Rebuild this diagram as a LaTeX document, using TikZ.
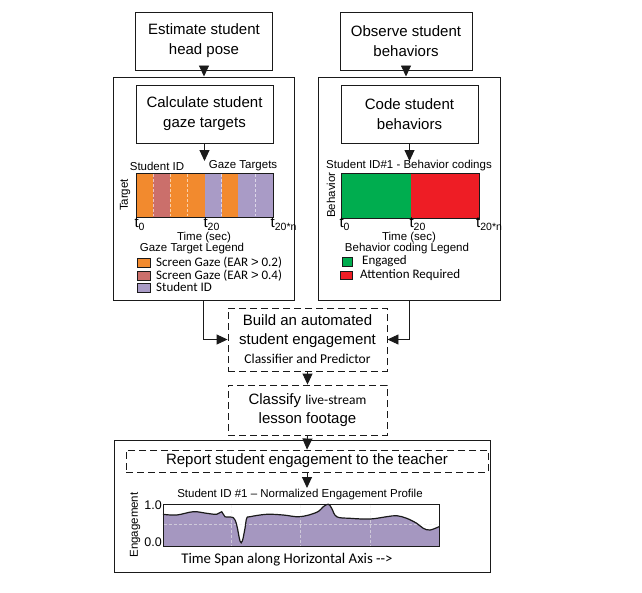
\documentclass[tikz,border=0pt]{standalone}
\usepackage{fontspec}
\setmainfont{Liberation Sans}
\newfontfamily\calfont{Carlito}
\usetikzlibrary{arrows.meta}
\definecolor{gorange}{HTML}{F28A2E}
\definecolor{grose}{HTML}{CB6F6B}
\definecolor{glav}{HTML}{A99BC6}
\definecolor{bgreen}{HTML}{00AD4F}
\definecolor{bred}{HTML}{EE1D25}
\definecolor{pfill}{HTML}{A597C0}
\definecolor{lnk}{HTML}{1A1A1A}
\tikzset{
  box/.style={draw=lnk, line width=0.9pt, fill=white, align=center, inner sep=2pt,
    font=\fontsize{15}{20}\selectfont},
  dbox/.style={draw=lnk, line width=0.9pt, dash pattern=on 7pt off 4pt, fill=white, align=center, inner sep=2pt,
    font=\fontsize{15}{19}\selectfont},
  outer/.style={draw=lnk, line width=1pt},
  arr/.style={draw=lnk, line width=0.9pt, -{Triangle[length=11pt,width=10pt]}},
  lbl/.style={inner sep=0pt, font=\fontsize{11.5}{13}\selectfont},
  tlbl/.style={inner sep=0pt, anchor=north west, font=\fontsize{15}{15}\selectfont},
  leg/.style={inner sep=0pt, anchor=west, font=\calfont\fontsize{13}{14}\selectfont},
  sq/.style={draw=lnk, line width=0.5pt},
  grid/.style={draw=white, opacity=0.6, line width=0.7pt, dash pattern=on 3pt off 2pt},
}
\newcommand{\tsub}[1]{t\raisebox{-0.35ex}{\fontsize{10.5}{10.5}\selectfont #1}}
\begin{document}
\begin{tikzpicture}[x=1pt,y=-1pt]
\useasboundingbox (0,0) rectangle (642,592);

% top boxes
\node[box, minimum width=137, minimum height=58] (est) at (204,41) {Estimate student\\head pose};
\node[box, minimum width=132, minimum height=58] (obs) at (406,41) {Observe student\\behaviors};

% outer boxes
\node[outer, minimum width=181, minimum height=223] (lout) at (203.5,188.5) {};
\node[outer, minimum width=182, minimum height=223] (rout) at (409,188.5) {};

\draw[arr] (est.south) -- (est.south |- lout.north);
\draw[arr] (obs.south) -- (obs.south |- rout.north);

\node[box, minimum width=137, minimum height=58] (calc) at (204.5,114) {Calculate student\\gaze targets};
\node[box, minimum width=137, minimum height=58] (code) at (409.5,114) {Code student\\behaviors};

\coordinate (ltip) at (204.5,161);
\coordinate (rtip) at (409.5,161);
\draw[arr] (calc.south) -- (ltip);
\draw[arr] (code.south) -- (rtip);

% ---------- left chart ----------
\node[lbl] (lsid) at (157,166) {Student ID};
\node[lbl] (lgt) at (243,166) {Gaze Targets};
\fill[gorange] (136,173) rectangle (153,217);
\fill[grose] (153,173) rectangle (170,217);
\fill[gorange] (170,173) rectangle (221.7,217);
\fill[glav] (205,173) rectangle (221.7,217);
\fill[gorange] (221.7,173) rectangle (238.3,217);
\fill[glav] (238.3,173) rectangle (273,217);
\foreach \gx in {153,170,187.3,221.7,255.7}
  \draw[grid] (\gx,174) -- (\gx,216);
\draw[lnk, line width=0.9pt] (136,173) rectangle (273,217);
\node[lbl, rotate=90] (ltarget) at (125,195) {Target};
\node[tlbl] (lt0) at (134.3,217.5) {\tsub{0}};
\node[tlbl] (lt20) at (203.3,217.5) {\tsub{20}};
\node[tlbl] (lt20n) at (270.5,217.5) {\tsub{20*n}};
\node[lbl] (ltime) at (204,237.5) {Time (sec)};
\node[lbl] (lleg) at (192,249) {Gaze Target Legend};
\draw[sq, fill=gorange] (137,258.5) rectangle (150,267.5);
\draw[sq, fill=grose] (137,271) rectangle (150,280);
\draw[sq, fill=glav] (137,283.5) rectangle (150,292);
\node[leg] (lg1) at (156,263) {Screen Gaze (EAR {\fontspec{Liberation Sans}>} 0.2)};
\node[leg] (lg2) at (156,275.5) {Screen Gaze (EAR {\fontspec{Liberation Sans}>} 0.4)};
\node[leg] (lg3) at (156,287.5) {Student ID};

% ---------- right chart ----------
\node[lbl] (rsid) at (409,166) {Student ID\#1 - Behavior codings};
\fill[bgreen] (341,173) rectangle (411,218);
\fill[bred] (411,173) rectangle (479,218);
\draw[lnk, line width=0.9pt] (341,173) rectangle (479,218);
\node[lbl, rotate=90] (rbeh) at (331,195) {Behavior};
\node[tlbl] (rt0) at (339.3,218) {\tsub{0}};
\node[tlbl] (rt20) at (409.3,218) {\tsub{20}};
\node[tlbl] (rt20n) at (476,218) {\tsub{20*n}};
\node[lbl] (rtime) at (409,237.5) {Time (sec)};
\node[lbl] (rleg) at (407,249) {Behavior coding Legend};
\draw[sq, fill=bgreen] (342,257) rectangle (352.5,266);
\draw[sq, fill=bred] (340.5,271) rectangle (352.5,279.5);
\node[leg] (rg1) at (362,261) {Engaged};
\node[leg] (rg2) at (360,275) {Attention Required};

% ---------- middle ----------
\node[dbox, minimum width=159, minimum height=63] (build) at (307.5,339.5)
  {Build an automated\\student engagement\\{\calfont\fontsize{13.5}{16}\selectfont Classifier and Predictor}};
\node[dbox, minimum width=159, minimum height=50] (classify) at (307.5,410)
  {Classify {\calfont\fontsize{13.5}{16}\selectfont live-stream}\\lesson footage};
\draw[arr] (lout.south) |- (build.west);
\draw[arr] (rout.south) |- (build.east);
\draw[arr] (build.south) -- (classify.north);

% ---------- bottom ----------
\node[outer, minimum width=376, minimum height=132] (bout) at (302,506) {};
\node[dbox, minimum width=362, minimum height=22, inner sep=0pt] (report) at (307,461)
  {Report student engagement to the teacher};
\draw[arr] (classify.south) -- (report.north);
\coordinate (ptip) at (307,488);
\draw[arr] (report.south) -- (ptip);

\node[lbl] (ptitle) at (300,495) {Student ID \#1 -- Normalized Engagement Profile};
\fill[pfill] (163,546) -- plot[smooth, tension=0.6] coordinates {
 (163,514.3) (176.7,515) (193.3,511.7) (206.7,513.3) (216.7,514.3) (221.7,511.7)
 (225,516.7) (233.3,517.7) (236.7,525) (240,541) (242.3,541) (245,528.3)
 (246.7,518.3) (250,516.7) (266.7,514.3) (283.3,515) (300,516.7) (316.7,512.3)
 (323.3,506.7) (328.3,504.2) (331.7,508.3) (336.7,516.7) (350,518.3) (370,519)
 (386.7,516.7) (396.7,515.7) (406.7,518.3) (416.7,523.3) (423.3,528.3) (430,530) (439,526.7)
} -- (439,546) -- cycle;
\foreach \gx in {231,300,370}
  \draw[grid, draw=white!85!gray] (\gx,504.5) -- (\gx,545.5);
\draw[grid, draw=white!85!gray] (163.5,524.5) -- (438.5,524.5);
\draw[lnk, line width=1.2pt] plot[smooth, tension=0.6] coordinates {
 (163,514.3) (176.7,515) (193.3,511.7) (206.7,513.3) (216.7,514.3) (221.7,511.7)
 (225,516.7) (233.3,517.7) (236.7,525) (240,541) (242.3,541) (245,528.3)
 (246.7,518.3) (250,516.7) (266.7,514.3) (283.3,515) (300,516.7) (316.7,512.3)
 (323.3,506.7) (328.3,504.2) (331.7,508.3) (336.7,516.7) (350,518.3) (370,519)
 (386.7,516.7) (396.7,515.7) (406.7,518.3) (416.7,523.3) (423.3,528.3) (430,530) (439,526.7)
};
\draw[lnk, line width=1pt] (163,504) rectangle (439,546);
\node[lbl, anchor=east, font=\fontsize{12.5}{13}\selectfont] (y1) at (162,505) {1.0};
\node[lbl, anchor=east, font=\fontsize{12.5}{13}\selectfont] (y0) at (162,542) {0.0};
\node[lbl, rotate=90] (peng) at (135,525) {Engagement};
\node[inner sep=0pt, font=\calfont\fontsize{14.8}{16}\selectfont] (tspan) at (287,560) {Time Span along Horizontal Axis -{}->};
\end{tikzpicture}
\end{document}
